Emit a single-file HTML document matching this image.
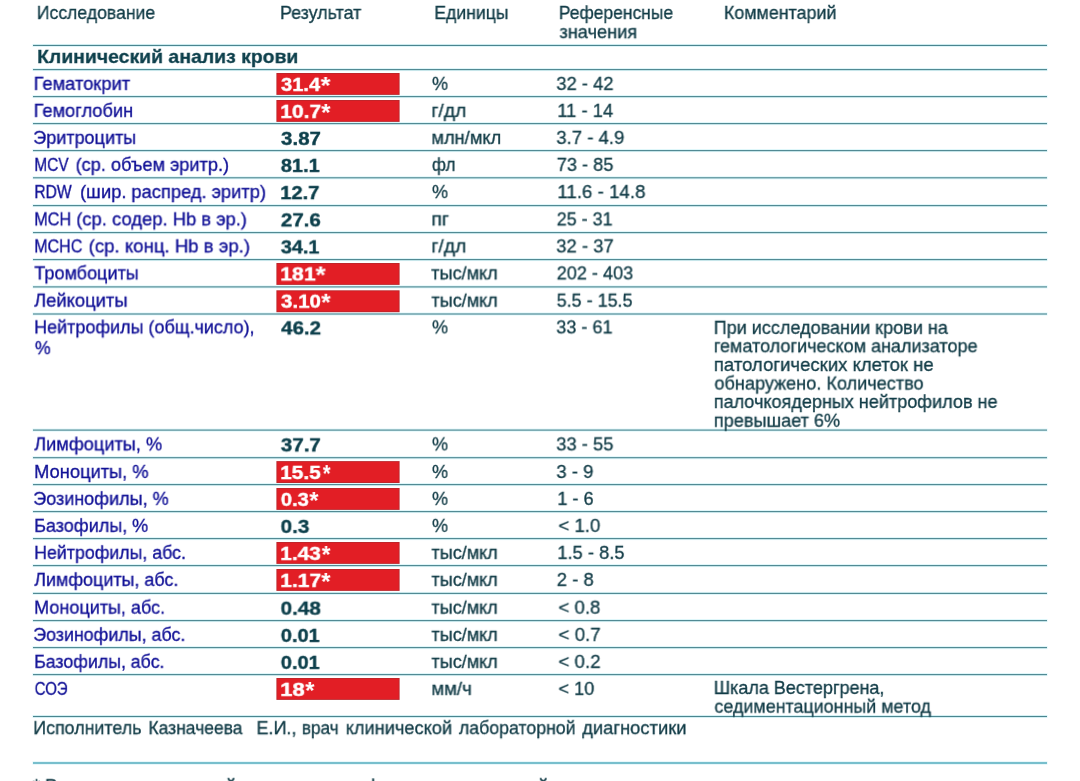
<!DOCTYPE html>
<html lang="ru"><head><meta charset="utf-8"><title>Клинический анализ крови</title>
<style>
html,body{margin:0;padding:0;background:#fff;}
body{width:1080px;height:781px;position:relative;overflow:hidden;font-family:"Liberation Sans",sans-serif;}
svg{position:absolute;left:0;top:0;}
.w{position:absolute;left:0;top:0;width:1080px;height:781px;will-change:transform;}
.t{position:absolute;white-space:pre;line-height:1;transform-origin:0 0;will-change:transform;}
.hd{font-size:18.4px;font-weight:400;color:#123c47;-webkit-text-stroke:0.32px #123c47;}
.sec{font-size:18.4px;font-weight:700;color:#0c3f4b;-webkit-text-stroke:0.3px #0c3f4b;}
.nm{font-size:18.4px;font-weight:400;color:#101096;-webkit-text-stroke:0.32px #101096;}
.vb{font-size:18.4px;font-weight:700;color:#0c3f4b;-webkit-text-stroke:0.4px #0c3f4b;}
.vr{font-size:18.4px;font-weight:700;color:#ffffff;-webkit-text-stroke:0.4px #ffffff;}
.as{font-size:24px;font-weight:700;color:#ffffff;-webkit-text-stroke:0.1px #ffffff;}
.un{font-size:18.4px;font-weight:400;color:#123c47;-webkit-text-stroke:0.32px #123c47;}
.cm{font-size:18.4px;font-weight:400;color:#123c47;-webkit-text-stroke:0.32px #123c47;}
.h{fill:#bfeef5;opacity:.55}.c{fill:#4b858f}.hb{fill:#c8eef5;opacity:.6}.cb{fill:#5fb2c3}.bx{fill:#e21e25}.bb{fill:#bd262c}
</style></head><body>
<svg width="1080" height="781" viewBox="0 0 1080 781">
<rect class="h" x="32.5" y="43.95" width="1015.0" height="3"/><rect class="c" x="33.0" y="44.90" width="1014.0" height="1.1"/>
<rect class="h" x="32.5" y="68.10" width="1015.0" height="3"/><rect class="c" x="33.0" y="69.05" width="1014.0" height="1.1"/>
<rect class="h" x="32.5" y="95.10" width="1015.0" height="3"/><rect class="c" x="33.0" y="96.05" width="1014.0" height="1.1"/>
<rect class="h" x="32.5" y="122.10" width="1015.0" height="3"/><rect class="c" x="33.0" y="123.05" width="1014.0" height="1.1"/>
<rect class="h" x="32.5" y="149.10" width="1015.0" height="3"/><rect class="c" x="33.0" y="150.05" width="1014.0" height="1.1"/>
<rect class="h" x="32.5" y="176.30" width="1015.0" height="3"/><rect class="c" x="33.0" y="177.25" width="1014.0" height="1.1"/>
<rect class="h" x="32.5" y="204.10" width="1015.0" height="3"/><rect class="c" x="33.0" y="205.05" width="1014.0" height="1.1"/>
<rect class="h" x="32.5" y="231.10" width="1015.0" height="3"/><rect class="c" x="33.0" y="232.05" width="1014.0" height="1.1"/>
<rect class="h" x="32.5" y="258.10" width="1015.0" height="3"/><rect class="c" x="33.0" y="259.05" width="1014.0" height="1.1"/>
<rect class="h" x="32.5" y="285.40" width="1015.0" height="3"/><rect class="c" x="33.0" y="286.35" width="1014.0" height="1.1"/>
<rect class="h" x="32.5" y="312.50" width="1015.0" height="3"/><rect class="c" x="33.0" y="313.45" width="1014.0" height="1.1"/>
<rect class="h" x="32.5" y="428.60" width="1015.0" height="3"/><rect class="c" x="33.0" y="429.55" width="1014.0" height="1.1"/>
<rect class="h" x="32.5" y="456.20" width="1015.0" height="3"/><rect class="c" x="33.0" y="457.15" width="1014.0" height="1.1"/>
<rect class="h" x="32.5" y="483.10" width="1015.0" height="3"/><rect class="c" x="33.0" y="484.05" width="1014.0" height="1.1"/>
<rect class="h" x="32.5" y="510.10" width="1015.0" height="3"/><rect class="c" x="33.0" y="511.05" width="1014.0" height="1.1"/>
<rect class="h" x="32.5" y="537.10" width="1015.0" height="3"/><rect class="c" x="33.0" y="538.05" width="1014.0" height="1.1"/>
<rect class="h" x="32.5" y="564.10" width="1015.0" height="3"/><rect class="c" x="33.0" y="565.05" width="1014.0" height="1.1"/>
<rect class="h" x="32.5" y="591.90" width="1015.0" height="3"/><rect class="c" x="33.0" y="592.85" width="1014.0" height="1.1"/>
<rect class="h" x="32.5" y="619.10" width="1015.0" height="3"/><rect class="c" x="33.0" y="620.05" width="1014.0" height="1.1"/>
<rect class="h" x="32.5" y="646.10" width="1015.0" height="3"/><rect class="c" x="33.0" y="647.05" width="1014.0" height="1.1"/>
<rect class="h" x="32.5" y="673.10" width="1015.0" height="3"/><rect class="c" x="33.0" y="674.05" width="1014.0" height="1.1"/>
<rect class="h" x="32.5" y="715.00" width="1015.0" height="3"/><rect class="c" x="33.0" y="715.95" width="1014.0" height="1.1"/>
<rect class="hb" x="32.5" y="761.30" width="1015.0" height="3.4"/><rect class="cb" x="33.0" y="762.20" width="1014.0" height="1.6"/>
<rect class="bb" x="276.4" y="73.00" width="123.2" height="21.9"/><rect class="bx" x="277.29999999999995" y="73.90" width="121.4" height="20.1"/>
<rect class="bb" x="276.4" y="100.00" width="123.2" height="21.9"/><rect class="bx" x="277.29999999999995" y="100.90" width="121.4" height="20.1"/>
<rect class="bb" x="276.4" y="263.00" width="123.2" height="21.9"/><rect class="bx" x="277.29999999999995" y="263.90" width="121.4" height="20.1"/>
<rect class="bb" x="276.4" y="290.30" width="123.2" height="21.9"/><rect class="bx" x="277.29999999999995" y="291.20" width="121.4" height="20.1"/>
<rect class="bb" x="276.4" y="461.10" width="123.2" height="21.9"/><rect class="bx" x="277.29999999999995" y="462.00" width="121.4" height="20.1"/>
<rect class="bb" x="276.4" y="488.00" width="123.2" height="21.9"/><rect class="bx" x="277.29999999999995" y="488.90" width="121.4" height="20.1"/>
<rect class="bb" x="276.4" y="542.00" width="123.2" height="21.9"/><rect class="bx" x="277.29999999999995" y="542.90" width="121.4" height="20.1"/>
<rect class="bb" x="276.4" y="569.00" width="123.2" height="21.9"/><rect class="bx" x="277.29999999999995" y="569.90" width="121.4" height="20.1"/>
<rect class="bb" x="276.4" y="678.00" width="123.2" height="21.9"/><rect class="bx" x="277.29999999999995" y="678.90" width="121.4" height="20.1"/>
</svg>
<div class="w">
<span class="t hd" style="left:36px;top:4px;transform:matrix(0.9582,0,0.00001,1,0.83,0.00)">Исследование</span>
<span class="t hd" style="left:280px;top:4px;transform:matrix(0.9712,0,0.00001,1,0.03,0.00)">Результат</span>
<span class="t hd" style="left:434px;top:4px;transform:matrix(0.9575,0,0.00001,1,0.32,0.00)">Единицы</span>
<span class="t hd" style="left:558px;top:4px;transform:matrix(0.9488,0,0.00001,1,0.84,0.00)">Референсные</span>
<span class="t hd" style="left:559px;top:23px;transform:matrix(0.9866,0,0.00001,1,0.50,0.20)">значения</span>
<span class="t hd" style="left:723px;top:4px;transform:matrix(0.9722,0,0.00001,1,0.91,0.00)">Комментарий</span>
<span class="t sec" style="left:37px;top:48px;transform:matrix(1.0556,0,0.00001,1,0.15,0.00)">Клинический анализ крови</span>
<span class="t nm" style="left:33px;top:75px;transform:matrix(0.9960,0,0.00001,1,0.68,-0.10)">Гематокрит</span>
<span class="t vr" style="left:281px;top:76px;transform:matrix(1.0892,0,0.00001,1,0.16,-0.10)">31.4</span>
<span class="t as" style="left:320px;top:74px;transform:matrix(1.0309,0,0.00001,1,0.77,-0.00)">*</span>
<span class="t un" style="left:432px;top:75px;transform:matrix(0.9781,0,0.00001,1,0.01,-0.10)">%</span>
<span class="t un" style="left:556px;top:75px;transform:matrix(0.9999,0,0.00001,1,0.34,-0.10)">32 - 42</span>
<span class="t nm" style="left:33px;top:102px;transform:matrix(0.9937,0,0.00001,1,0.69,-0.10)">Гемоглобин</span>
<span class="t vr" style="left:280px;top:103px;transform:matrix(1.1442,0,0.00001,1,0.22,-0.10)">10.7</span>
<span class="t as" style="left:321px;top:101px;transform:matrix(0.9749,0,0.00001,1,0.33,-0.00)">*</span>
<span class="t un" style="left:431px;top:102px;transform:matrix(1.0496,0,0.00001,1,0.38,-0.10)">г/дл</span>
<span class="t un" style="left:557px;top:102px;transform:matrix(0.9972,0,0.00001,1,0.37,-0.10)">11 - 14</span>
<span class="t nm" style="left:33px;top:129px;transform:matrix(0.9804,0,0.00001,1,0.24,-0.10)">Эритроциты</span>
<span class="t vb" style="left:281px;top:130px;transform:matrix(1.1136,0,0.00001,1,0.10,-0.10)">3.87</span>
<span class="t un" style="left:431px;top:129px;transform:matrix(0.9944,0,0.00001,1,0.41,-0.10)">млн/мкл</span>
<span class="t un" style="left:556px;top:129px;transform:matrix(1.0080,0,0.00001,1,0.35,-0.10)">3.7 - 4.9</span>
<span class="t nm" style="left:34px;top:156px;transform:matrix(0.8419,0,0.00001,1,0.34,-0.10)">MCV</span>
<span class="t nm" style="left:75px;top:156px;transform:matrix(0.9890,0,0.00001,1,0.63,-0.10)">(ср. объем эритр.)</span>
<span class="t vb" style="left:280px;top:157px;transform:matrix(1.0786,0,0.00001,1,0.97,-0.10)">81.1</span>
<span class="t un" style="left:431px;top:156px;transform:matrix(0.9224,0,0.00001,1,0.97,-0.10)">фл</span>
<span class="t un" style="left:556px;top:156px;transform:matrix(0.9908,0,0.00001,1,0.75,-0.10)">73 - 85</span>
<span class="t nm" style="left:34px;top:183px;transform:matrix(0.8507,0,0.00001,1,0.33,0.10)">RDW</span>
<span class="t nm" style="left:80px;top:183px;transform:matrix(0.9953,0,0.00001,1,0.09,0.10)">(шир. распред. эритр)</span>
<span class="t vb" style="left:280px;top:184px;transform:matrix(1.0961,0,0.00001,1,0.20,0.10)">12.7</span>
<span class="t un" style="left:432px;top:183px;transform:matrix(0.9781,0,0.00001,1,0.01,0.10)">%</span>
<span class="t un" style="left:557px;top:183px;transform:matrix(1.0169,0,0.00001,1,0.40,0.10)">11.6 - 14.8</span>
<span class="t nm" style="left:34px;top:210px;transform:matrix(0.8818,0,0.00001,1,0.27,0.40)">MCH</span>
<span class="t nm" style="left:76px;top:210px;transform:matrix(1.0000,0,0.00001,1,0.31,0.40)">(ср. содер. Hb в эр.)</span>
<span class="t vb" style="left:281px;top:211px;transform:matrix(1.1124,0,0.00001,1,0.01,0.40)">27.6</span>
<span class="t un" style="left:431px;top:210px;transform:matrix(1.0648,0,0.00001,1,0.35,0.40)">пг</span>
<span class="t un" style="left:556px;top:210px;transform:matrix(0.9763,0,0.00001,1,0.73,0.40)">25 - 31</span>
<span class="t nm" style="left:34px;top:237px;transform:matrix(0.8709,0,0.00001,1,0.29,0.40)">MCHC</span>
<span class="t nm" style="left:88px;top:237px;transform:matrix(1.0116,0,0.00001,1,0.63,0.40)">(ср. конц. Hb в эр.)</span>
<span class="t vb" style="left:280px;top:238px;transform:matrix(1.0771,0,0.00001,1,0.96,0.40)">34.1</span>
<span class="t un" style="left:431px;top:237px;transform:matrix(1.0481,0,0.00001,1,0.37,0.40)">г/дл</span>
<span class="t un" style="left:556px;top:237px;transform:matrix(1.0025,0,0.00001,1,0.26,0.40)">32 - 37</span>
<span class="t nm" style="left:34px;top:264px;transform:matrix(0.9829,0,0.00001,1,0.32,0.40)">Тромбоциты</span>
<span class="t vr" style="left:280px;top:265px;transform:matrix(1.1565,0,0.00001,1,0.22,0.40)">181</span>
<span class="t as" style="left:315px;top:264px;transform:matrix(1.0857,0,0.00001,1,0.61,-0.50)">*</span>
<span class="t un" style="left:431px;top:264px;transform:matrix(0.9860,0,0.00001,1,0.18,0.40)">тыс/мкл</span>
<span class="t un" style="left:556px;top:264px;transform:matrix(0.9840,0,0.00001,1,0.73,0.40)">202 - 403</span>
<span class="t nm" style="left:34px;top:292px;transform:matrix(0.9999,0,0.00001,1,0.17,-0.30)">Лейкоциты</span>
<span class="t vr" style="left:281px;top:293px;transform:matrix(1.1126,0,0.00001,1,0.12,-0.30)">3.10</span>
<span class="t as" style="left:321px;top:291px;transform:matrix(1.0022,0,0.00001,1,0.26,-0.20)">*</span>
<span class="t un" style="left:431px;top:292px;transform:matrix(0.9820,0,0.00001,1,0.44,-0.30)">тыс/мкл</span>
<span class="t un" style="left:556px;top:292px;transform:matrix(0.9760,0,0.00001,1,0.69,-0.30)">5.5 - 15.5</span>
<span class="t nm" style="left:34px;top:318px;transform:matrix(0.9767,0,0.00001,1,0.14,0.40)">Нейтрофилы (общ.число),</span>
<span class="t vb" style="left:281px;top:319px;transform:matrix(1.1100,0,0.00001,1,0.28,0.40)">46.2</span>
<span class="t un" style="left:432px;top:318px;transform:matrix(0.9781,0,0.00001,1,0.01,0.40)">%</span>
<span class="t un" style="left:556px;top:318px;transform:matrix(0.9843,0,0.00001,1,0.27,0.40)">33 - 61</span>
<span class="t nm" style="left:34px;top:435px;transform:matrix(0.9886,0,0.00001,1,0.26,0.40)">Лимфоциты, %</span>
<span class="t vb" style="left:280px;top:436px;transform:matrix(1.1136,0,0.00001,1,0.97,0.40)">37.7</span>
<span class="t un" style="left:432px;top:435px;transform:matrix(0.9781,0,0.00001,1,0.01,0.40)">%</span>
<span class="t un" style="left:556px;top:435px;transform:matrix(1.0000,0,0.00001,1,0.26,0.40)">33 - 55</span>
<span class="t nm" style="left:34px;top:463px;transform:matrix(0.9940,0,0.00001,1,0.14,0.00)">Моноциты, %</span>
<span class="t vr" style="left:280px;top:464px;transform:matrix(1.1350,0,0.00001,1,0.22,0.00)">15.5</span>
<span class="t as" style="left:322px;top:462px;transform:matrix(0.8206,0,0.00001,1,0.85,0.10)">*</span>
<span class="t un" style="left:432px;top:463px;transform:matrix(0.9780,0,0.00001,1,0.01,0.00)">%</span>
<span class="t un" style="left:556px;top:463px;transform:matrix(1.0081,0,0.00001,1,0.39,0.00)">3 - 9</span>
<span class="t nm" style="left:33px;top:490px;transform:matrix(0.9789,0,0.00001,1,0.24,-0.10)">Эозинофилы, %</span>
<span class="t vr" style="left:280px;top:491px;transform:matrix(1.0890,0,0.00001,1,0.96,-0.10)">0.3</span>
<span class="t as" style="left:309px;top:489px;transform:matrix(0.9592,0,0.00001,1,0.44,0.00)">*</span>
<span class="t un" style="left:432px;top:490px;transform:matrix(0.9781,0,0.00001,1,0.01,-0.10)">%</span>
<span class="t un" style="left:557px;top:490px;transform:matrix(0.9859,0,0.00001,1,0.38,-0.10)">1 - 6</span>
<span class="t nm" style="left:34px;top:517px;transform:matrix(0.9796,0,0.00001,1,0.15,-0.10)">Базофилы, %</span>
<span class="t vb" style="left:280px;top:518px;transform:matrix(1.1254,0,0.00001,1,0.50,-0.10)">0.3</span>
<span class="t un" style="left:432px;top:517px;transform:matrix(0.9781,0,0.00001,1,0.01,-0.10)">%</span>
<span class="t un" style="left:558px;top:517px;transform:matrix(1.0094,0,0.00001,1,0.52,-0.10)">< 1.0</span>
<span class="t nm" style="left:34px;top:544px;transform:matrix(0.9663,0,0.00001,1,0.17,-0.10)">Нейтрофилы, абс.</span>
<span class="t vr" style="left:280px;top:545px;transform:matrix(1.1379,0,0.00001,1,0.22,-0.10)">1.43</span>
<span class="t as" style="left:321px;top:543px;transform:matrix(0.9206,0,0.00001,1,0.82,0.00)">*</span>
<span class="t un" style="left:431px;top:544px;transform:matrix(0.9814,0,0.00001,1,0.48,-0.10)">тыс/мкл</span>
<span class="t un" style="left:557px;top:544px;transform:matrix(0.9953,0,0.00001,1,0.37,-0.10)">1.5 - 8.5</span>
<span class="t nm" style="left:34px;top:571px;transform:matrix(0.9745,0,0.00001,1,0.29,-0.10)">Лимфоциты, абс.</span>
<span class="t vr" style="left:280px;top:572px;transform:matrix(1.1442,0,0.00001,1,0.22,-0.10)">1.17</span>
<span class="t as" style="left:321px;top:570px;transform:matrix(0.9749,0,0.00001,1,0.33,0.00)">*</span>
<span class="t un" style="left:431px;top:571px;transform:matrix(0.9814,0,0.00001,1,0.48,-0.10)">тыс/мкл</span>
<span class="t un" style="left:556px;top:571px;transform:matrix(1.0034,0,0.00001,1,0.76,-0.10)">2 - 8</span>
<span class="t nm" style="left:34px;top:599px;transform:matrix(0.9803,0,0.00001,1,0.13,-0.30)">Моноциты, абс.</span>
<span class="t vb" style="left:280px;top:600px;transform:matrix(1.1293,0,0.00001,1,0.48,-0.30)">0.48</span>
<span class="t un" style="left:431px;top:599px;transform:matrix(0.9820,0,0.00001,1,0.44,-0.30)">тыс/мкл</span>
<span class="t un" style="left:558px;top:599px;transform:matrix(1.0134,0,0.00001,1,0.51,-0.30)">< 0.8</span>
<span class="t nm" style="left:33px;top:626px;transform:matrix(0.9698,0,0.00001,1,0.25,-0.10)">Эозинофилы, абс.</span>
<span class="t vb" style="left:280px;top:627px;transform:matrix(1.0819,0,0.00001,1,0.89,-0.10)">0.01</span>
<span class="t un" style="left:431px;top:626px;transform:matrix(0.9814,0,0.00001,1,0.48,-0.10)">тыс/мкл</span>
<span class="t un" style="left:558px;top:626px;transform:matrix(1.0175,0,0.00001,1,0.52,-0.10)">< 0.7</span>
<span class="t nm" style="left:34px;top:653px;transform:matrix(0.9654,0,0.00001,1,0.17,-0.10)">Базофилы, абс.</span>
<span class="t vb" style="left:280px;top:654px;transform:matrix(1.0819,0,0.00001,1,0.89,-0.10)">0.01</span>
<span class="t un" style="left:431px;top:653px;transform:matrix(0.9814,0,0.00001,1,0.48,-0.10)">тыс/мкл</span>
<span class="t un" style="left:558px;top:653px;transform:matrix(1.0145,0,0.00001,1,0.52,-0.10)">< 0.2</span>
<span class="t nm" style="left:34px;top:680px;transform:matrix(0.8112,0,0.00001,1,0.75,-0.10)">СОЭ</span>
<span class="t vr" style="left:280px;top:681px;transform:matrix(1.2057,0,0.00001,1,0.19,-0.10)">18</span>
<span class="t as" style="left:305px;top:679px;transform:matrix(0.9666,0,0.00001,1,0.36,0.00)">*</span>
<span class="t un" style="left:431px;top:680px;transform:matrix(1.0104,0,0.00001,1,0.40,-0.10)">мм/ч</span>
<span class="t un" style="left:558px;top:680px;transform:matrix(0.9895,0,0.00001,1,0.53,-0.10)">< 10</span>
<span class="t nm" style="left:34px;top:339px;transform:matrix(0.9630,0,0.00001,1,0.91,0.20)">%</span>
<span class="t cm" style="left:713px;top:319px;transform:matrix(0.9810,0,0.00001,1,0.73,-0.10)">При исследовании крови на</span>
<span class="t cm" style="left:713px;top:337px;transform:matrix(0.9797,0,0.00001,1,0.83,0.30)">гематологическом анализаторе</span>
<span class="t cm" style="left:713px;top:356px;transform:matrix(1.0078,0,0.00001,1,0.84,0.00)">патологических клеток не</span>
<span class="t cm" style="left:714px;top:375px;transform:matrix(0.9844,0,0.00001,1,0.45,-0.40)">обнаружено. Количество</span>
<span class="t cm" style="left:713px;top:393px;transform:matrix(0.9809,0,0.00001,1,0.86,0.00)">палочкоядерных нейтрофилов не</span>
<span class="t cm" style="left:713px;top:412px;transform:matrix(0.9856,0,0.00001,1,0.85,-0.20)">превышает 6%</span>
<span class="t cm" style="left:713px;top:679px;transform:matrix(0.9774,0,0.00001,1,0.71,0.00)">Шкала Вестергрена,</span>
<span class="t cm" style="left:714px;top:698px;transform:matrix(0.9731,0,0.00001,1,0.44,-0.30)">седиментационный метод</span>
<span class="t hd" style="left:33px;top:719px;transform:matrix(0.9701,0,0.00001,1,0.30,0.20)">Исполнитель</span>
<span class="t hd" style="left:148px;top:719px;transform:matrix(0.9495,0,0.00001,1,0.45,0.20)">Казначеева</span>
<span class="t hd" style="left:256px;top:719px;transform:matrix(0.9786,0,0.00001,1,0.48,0.20)">Е.И.,</span>
<span class="t hd" style="left:301px;top:719px;transform:matrix(0.9340,0,0.00001,1,0.88,0.20)">врач</span>
<span class="t hd" style="left:345px;top:719px;transform:matrix(0.9893,0,0.00001,1,0.74,0.20)">клинической</span>
<span class="t hd" style="left:458px;top:719px;transform:matrix(0.9640,0,0.00001,1,0.91,0.20)">лабораторной</span>
<span class="t hd" style="left:582px;top:719px;transform:matrix(0.9981,0,0.00001,1,0.20,0.20)">диагностики</span>
<span class="t hd" style="left:32px;top:777px;transform:matrix(1.0053,0,0.00001,1,0.80,0.20)">* Результат, выходящий за пределы референсных значений</span>
</div>
</body></html>
